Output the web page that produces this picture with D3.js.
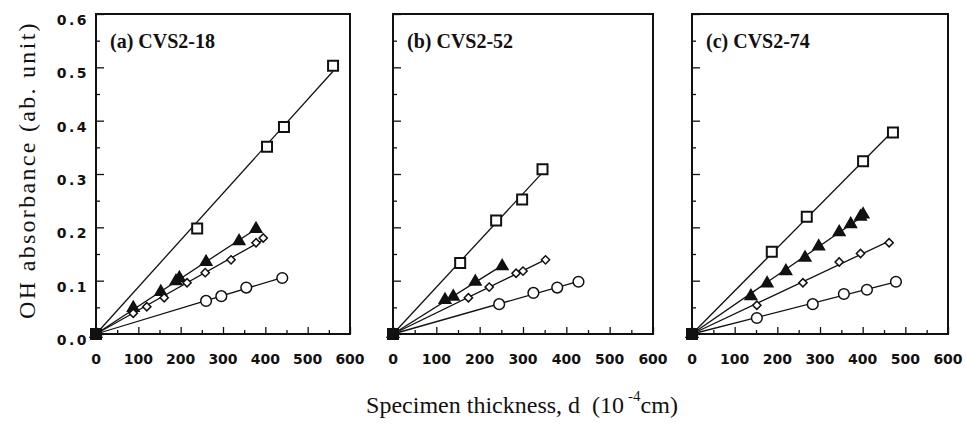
<!DOCTYPE html>
<html>
<head>
<meta charset="utf-8">
<script src="https://cdn.jsdelivr.net/npm/d3@7"></script>
<style>
  body { margin: 0; background: #fff; }
  svg { display: block; }
</style>
</head>
<body>
<script>
let W = 966, H = 424;
let margin = {top: 14, bottom: 90};
let panelLeft = [96, 393, 692];
let panelWidth = [254, 260, 256];
let panelTitles = ["(a) CVS2-18", "(b) CVS2-52", "(c) CVS2-74"];

let xTicks = [0, 100, 200, 300, 400, 500, 600];
let yTicks = [0.0, 0.1, 0.2, 0.3, 0.4, 0.5, 0.6];

// thickness (10^-4 cm) and absorbance, per panel, per marker
let aSquareX = [0, 239, 404, 444, 560];
let aSquareY = [0, 0.198, 0.351, 0.388, 0.503];
let aTriX = [0, 88, 153, 189, 197, 260, 338, 378];
let aTriY = [0, 0.049, 0.079, 0.099, 0.105, 0.135, 0.174, 0.197];
let aDiaX = [0, 88, 120, 161, 215, 258, 319, 378, 395];
let aDiaY = [0, 0.039, 0.051, 0.068, 0.096, 0.115, 0.139, 0.171, 0.18];
let aCircX = [0, 260, 296, 355, 440];
let aCircY = [0, 0.062, 0.071, 0.087, 0.105];

let bSquareX = [0, 155, 238, 298, 345];
let bSquareY = [0, 0.133, 0.213, 0.252, 0.309];
let bTriX = [0, 120, 139, 190, 252];
let bTriY = [0, 0.064, 0.07, 0.098, 0.127];
let bDiaX = [0, 174, 222, 284, 300, 352];
let bDiaY = [0, 0.068, 0.088, 0.114, 0.118, 0.139];
let bCircX = [0, 245, 324, 379, 428];
let bCircY = [0, 0.056, 0.077, 0.087, 0.098];

let cSquareX = [0, 187, 269, 401, 471];
let cSquareY = [0, 0.154, 0.22, 0.324, 0.378];
let cTriX = [0, 138, 176, 220, 265, 297, 345, 372, 395, 401];
let cTriY = [0, 0.071, 0.095, 0.118, 0.143, 0.164, 0.191, 0.206, 0.22, 0.224];
let cDiaX = [0, 152, 260, 345, 395, 462];
let cDiaY = [0, 0.054, 0.096, 0.135, 0.151, 0.171];
let cCircX = [0, 152, 283, 356, 410, 478];
let cCircY = [0, 0.03, 0.056, 0.075, 0.083, 0.098];

let panels = [
  [["square", aSquareX, aSquareY], ["triangle", aTriX, aTriY], ["diamond", aDiaX, aDiaY], ["circle", aCircX, aCircY]],
  [["square", bSquareX, bSquareY], ["triangle", bTriX, bTriY], ["diamond", bDiaX, bDiaY], ["circle", bCircX, bCircY]],
  [["square", cSquareX, cSquareY], ["triangle", cTriX, cTriY], ["diamond", cDiaX, cDiaY], ["circle", cCircX, cCircY]]
];

let svg = d3.select("body").append("svg").attr("width", W).attr("height", H);

let y = d3.scaleLinear().domain([0, 0.6]).range([H - margin.bottom, margin.top]);

let symbols = {
  square: d3.symbol().type(d3.symbolSquare).size(100),
  triangle: d3.symbol().type(d3.symbolTriangle).size(58),
  diamond: d3.symbol().type(d3.symbolSquare).size(34),
  circle: d3.symbol().type(d3.symbolCircle).size(90)
};

panels.forEach((series, i) => {
  let x = d3.scaleLinear().domain([0, 600]).range([panelLeft[i], panelLeft[i] + panelWidth[i]]);
  let g = svg.append("g");

  // fit lines through origin
  series.forEach(([kind, xs, ys]) => {
    let sxy = d3.sum(xs, (v, k) => v * ys[k]);
    let sxx = d3.sum(xs, v => v * v);
    let slope = sxy / sxx;
    let xmax = d3.max(xs);
    g.append("line")
      .attr("x1", x(0)).attr("y1", y(0))
      .attr("x2", x(xmax)).attr("y2", y(slope * xmax))
      .attr("stroke", "#111").attr("stroke-width", 1.3);
  });

  series.forEach(([kind, xs, ys]) => {
    g.selectAll("path." + kind)
      .data(xs.map((v, k) => [v, ys[k]]))
      .enter().append("path")
      .attr("class", kind)
      .attr("d", symbols[kind])
      .attr("transform", d => "translate(" + x(d[0]) + "," + y(d[1]) + ")" + (kind == "diamond" ? " rotate(45)" : ""))
      .attr("fill", d => (kind == "triangle" || d[0] == 0) ? "#111" : "#fff")
      .attr("stroke", "#111")
      .attr("stroke-width", kind == "square" ? 2 : 1.5);
  });

  // inward ticks
  let xAxis = d3.axisBottom(x).tickValues(d3.range(0, 601, 50)).tickSize(-4).tickFormat("");
  g.append("g").attr("transform", "translate(0," + y(0) + ")").call(xAxis)
    .call(a => a.select(".domain").remove())
    .call(a => a.selectAll(".tick line").filter(d => d % 100 == 0).attr("y2", -7))
    .call(a => a.selectAll(".tick line").attr("stroke", "#111").attr("stroke-width", 1.3));
  let yAxis = d3.axisLeft(y).tickValues(d3.range(0, 0.601, 0.05)).tickSize(-4).tickFormat("");
  g.append("g").attr("transform", "translate(" + x(0) + ",0)").call(yAxis)
    .call(a => a.select(".domain").remove())
    .call(a => a.selectAll(".tick line").filter((d, k) => k % 2 == 0).attr("x2", 8))
    .call(a => a.selectAll(".tick line").attr("stroke", "#111").attr("stroke-width", 1.3));

  g.append("rect")
    .attr("x", x(0)).attr("y", y(0.6))
    .attr("width", x(600) - x(0)).attr("height", y(0) - y(0.6))
    .attr("fill", "none").attr("stroke", "#111").attr("stroke-width", 2);

  g.selectAll("text.xt").data(xTicks).enter().append("text")
    .attr("class", "xt")
    .attr("x", d => x(d)).attr("y", y(0) + 30)
    .attr("text-anchor", "middle")
    .attr("font-family", "DejaVu Sans").attr("font-weight", "bold").attr("font-size", 14)
    .attr("fill", "#111")
    .text(d => d);

  g.append("text")
    .attr("x", x(0) + 14).attr("y", y(0.6) + 34)
    .attr("font-family", "Liberation Serif").attr("font-weight", "bold").attr("font-size", 20)
    .attr("fill", "#111")
    .text(panelTitles[i]);

  if (i == 0) {
    g.selectAll("text.yt").data(yTicks).enter().append("text")
      .attr("class", "yt")
      .attr("x", x(0) - 7).attr("y", d => y(d) + 11)
      .attr("text-anchor", "end")
      .attr("font-family", "DejaVu Sans").attr("font-weight", "bold").attr("font-size", 14)
      .attr("letter-spacing", 2.5)
      .attr("fill", "#111")
      .text(d => d.toFixed(1));
  }
});

svg.append("text")
  .attr("transform", "translate(35," + (y(0.3) - 4) + ") rotate(-90)")
  .attr("text-anchor", "middle")
  .attr("font-family", "Liberation Serif").attr("font-size", 24)
  .attr("letter-spacing", 2.3)
  .attr("fill", "#111")
  .text("OH absorbance (ab. unit)");

let xt = svg.append("text")
  .attr("x", 522).attr("y", 413)
  .attr("text-anchor", "middle")
  .attr("font-family", "Liberation Serif").attr("font-size", 24)
  .attr("fill", "#111");
xt.append("tspan").text("Specimen thickness, d\u00a0 (10");
xt.append("tspan").attr("dx", 4).attr("dy", -12).attr("font-size", 15).text("-4");
xt.append("tspan").attr("dy", 12).text("cm)");
</script>
</body>
</html>
